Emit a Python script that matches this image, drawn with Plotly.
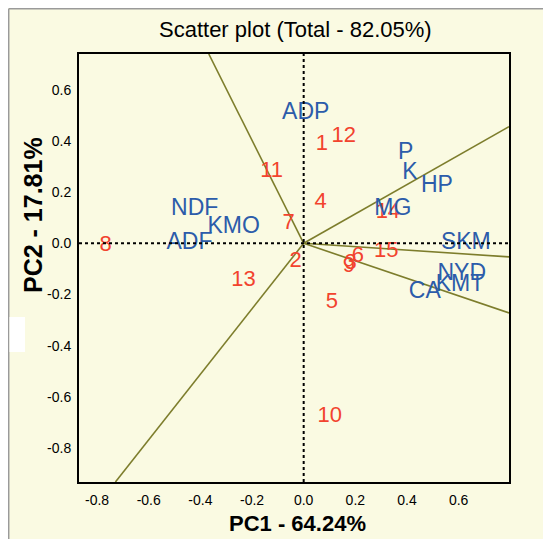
import plotly.graph_objects as go

# Observations (red numbers)
obs_labels = ["1", "2", "3", "4", "5", "6", "7", "8", "9", "10", "11", "12", "13", "14", "15"]
obs_pc1 = [0.070, -0.031, 0.182, 0.066, 0.109, 0.210, -0.058, -0.767, 0.175, 0.101, -0.124, 0.155, -0.233, 0.326, 0.320]
obs_pc2 = [0.385, -0.072, -0.080, 0.158, -0.233, -0.053, 0.076, -0.008, -0.092, -0.675, 0.280, 0.417, -0.147, 0.119, -0.033]

# Variables (blue labels)
var_labels = ["ADP", "NDF", "KMO", "ADF", "P", "K", "HP", "MG", "SKM", "NYD", "KMT", "CA"]
var_pc1 = [0.008, -0.422, -0.271, -0.442, 0.395, 0.411, 0.516, 0.345, 0.628, 0.612, 0.605, 0.469]
var_pc2 = [0.510, 0.135, 0.064, 0.000, 0.354, 0.275, 0.225, 0.135, 0.000, -0.120, -0.162, -0.190]

# Biplot vector lines (end points)
vec_x = [-0.3675, -0.729, 0.795, 0.795, 0.795]
vec_y = [0.740, -0.933, 0.456, -0.053, -0.272]

x_range = [-0.870, 0.795]
y_range = [-0.933, 0.740]
tick_vals_x = [-0.8, -0.6, -0.4, -0.2, 0.0, 0.2, 0.4, 0.6]
tick_vals_y = [-0.8, -0.6, -0.4, -0.2, 0.0, 0.2, 0.4, 0.6]

BG = "#FAFAE2"
OLIVE = "#7D7D2C"
RED = "#F2432E"
BLUE = "#2C5CAA"
FONT = "Liberation Sans, Arial"

fig = go.Figure()

for vx, vy in zip(vec_x, vec_y):
    fig.add_trace(go.Scatter(x=[0, vx], y=[0, vy], mode="lines",
                             line=dict(color=OLIVE, width=1.6),
                             hoverinfo="skip", showlegend=False))

fig.add_trace(go.Scatter(x=obs_pc1, y=obs_pc2, text=obs_labels, mode="text",
                         textposition="middle center",
                         textfont=dict(family=FONT, size=22, color=RED),
                         showlegend=False))
fig.add_trace(go.Scatter(x=var_pc1, y=var_pc2, text=var_labels, mode="text",
                         textposition="middle center",
                         textfont=dict(family=FONT, size=23, color=BLUE),
                         showlegend=False))

OFF = 8  # page body margin
W, H = 551 - OFF, 539 - OFF
L, R, T, B = 79 - OFF, 42, 54 - OFF, 57
pw, ph = W - L - R, H - T - B

def px_x(p):
    # p: page pixel x
    return (p - OFF - L) / pw

def px_y(p):
    return 1 - (p - OFF - T) / ph

shapes = [
    dict(type="line", xref="x", yref="y", x0=x_range[0], x1=x_range[1], y0=0, y1=0,
         line=dict(color="black", width=2, dash="dot"), layer="above"),
    dict(type="line", xref="x", yref="y", x0=0, x1=0, y0=y_range[0], y1=y_range[1],
         line=dict(color="black", width=2, dash="dot"), layer="above"),
    # gray panel border
    dict(type="line", xref="paper", yref="paper", x0=px_x(8.7), x1=px_x(8.7), y0=px_y(8.7), y1=px_y(560),
         line=dict(color="#9a9a9a", width=1.5), layer="above"),
    dict(type="line", xref="paper", yref="paper", x0=px_x(8.7), x1=px_x(560), y0=px_y(8.7), y1=px_y(8.7),
         line=dict(color="#9a9a9a", width=1.5), layer="above"),
    # white patch on the left margin
    dict(type="rect", xref="paper", yref="paper", x0=px_x(9.5), x1=px_x(25), y0=px_y(352), y1=px_y(317),
         fillcolor="white", line=dict(width=0), layer="above"),
]

annotations = [
    dict(text="Scatter plot (Total - 82.05%)", xref="paper", yref="paper",
         x=px_x(295), y=px_y(29), showarrow=False, xanchor="center", yanchor="middle",
         font=dict(family=FONT, size=22, color="black")),
    dict(text="<b>PC1 - 64.24%</b>", xref="paper", yref="paper",
         x=px_x(297), y=px_y(523), showarrow=False, xanchor="center", yanchor="middle",
         font=dict(family=FONT, size=22, color="black")),
    dict(text="<b>PC2 - 17.81%</b>", xref="paper", yref="paper",
         x=px_x(33), y=px_y(215), showarrow=False, xanchor="center", yanchor="middle",
         textangle=-90,
         font=dict(family=FONT, size=25, color="black")),
]

fig.update_layout(
    width=W, height=H,
    margin=dict(l=L, r=R, t=T, b=B, pad=0),
    paper_bgcolor=BG, plot_bgcolor=BG,
    showlegend=False,
    shapes=shapes,
    annotations=annotations,
    xaxis=dict(range=x_range, tickvals=tick_vals_x, ticktext=[f"{v:.1f}" for v in tick_vals_x],
               showgrid=False, zeroline=False, showline=True, mirror=True,
               linecolor="black", linewidth=2, ticks="", ticklen=0, ticklabelstandoff=4,
               tickfont=dict(family=FONT, size=14, color="black")),
    yaxis=dict(range=y_range, tickvals=tick_vals_y, ticktext=[f"{v:.1f}" for v in tick_vals_y],
               showgrid=False, zeroline=False, showline=True, mirror=True,
               linecolor="black", linewidth=2, ticks="", ticklen=0, ticklabelstandoff=3,
               tickfont=dict(family=FONT, size=14, color="black")),
)

fig.write_html("out.html")
